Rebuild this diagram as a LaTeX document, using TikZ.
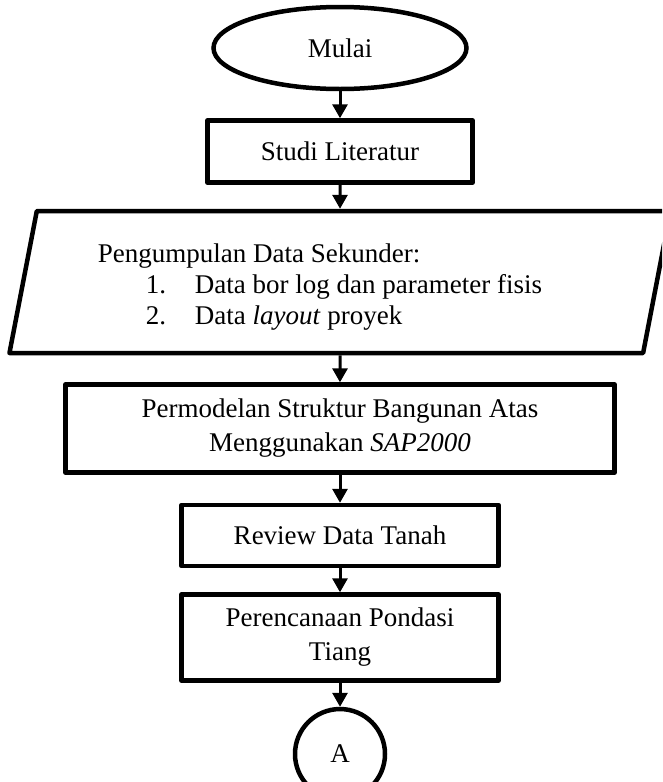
\documentclass[tikz,border=0pt]{standalone}
\usepackage{fontspec}
\setmainfont{Liberation Serif}
\usetikzlibrary{shapes.geometric,arrows.meta,positioning}

\begin{document}
\begin{tikzpicture}[
    x=1pt, y=-1pt,
    every node/.style={font=\fontsize{27}{34}\selectfont},
    startend/.style={ellipse, draw, line width=4.5pt, minimum width=253pt, minimum height=82pt},
    process/.style={rectangle, draw, line width=4.5pt, line join=round, align=center, minimum width=317pt},
    inputdata/.style={trapezium, trapezium left angle=76, trapezium right angle=104, trapezium stretches body, draw, line width=4.5pt, line join=round, minimum width=661pt, minimum height=142pt, font=\fontsize{27}{31}\selectfont},
    connector/.style={circle, draw, line width=4.5pt, minimum size=90pt},
    flowline/.style={line width=3pt, -{Triangle[width=15pt,length=14pt]}}
]
\useasboundingbox (0,0) rectangle (662,782);
\clip (0,0) rectangle (662,782);

% Start
\node[startend] (mulai) at (340,48) {Mulai};

% Steps
\node[process, minimum width=265pt, minimum height=62pt, below=27pt of mulai] (studi) {Studi Literatur};

\node[inputdata, below=24pt of studi] (data) {%
\raisebox{0pt}[\dimexpr\height+10pt\relax][\depth]{%
\begin{tabular}{@{}l@{\hspace{40pt}}}
Pengumpulan Data Sekunder:\\
\hspace{48pt}\makebox[49pt][l]{1.}Data bor log dan parameter fisis\\
\hspace{48pt}\makebox[49pt][l]{2.}Data \textit{layout} proyek
\end{tabular}}};

\node[process, minimum width=549pt, minimum height=88pt, below=27pt of data] (model) {Permodelan Struktur Bangunan Atas\\ Menggunakan \textit{SAP2000}};
\node[process, minimum height=61pt, below=28pt of model] (review) {Review Data Tanah};
\node[process, minimum height=86pt, below=24pt of review] (plan) {Perencanaan Pondasi\\ Tiang};

% Off-page connector
\node[connector, below=24pt of plan] (endA) {A};

% Flow
\draw[flowline] (mulai) -- (studi);
\draw[flowline] (studi) -- (data);
\draw[flowline] (data) -- (model);
\draw[flowline] (model) -- (review);
\draw[flowline] (review) -- (plan);
\draw[flowline] (plan) -- (endA);

\end{tikzpicture}
\end{document}
